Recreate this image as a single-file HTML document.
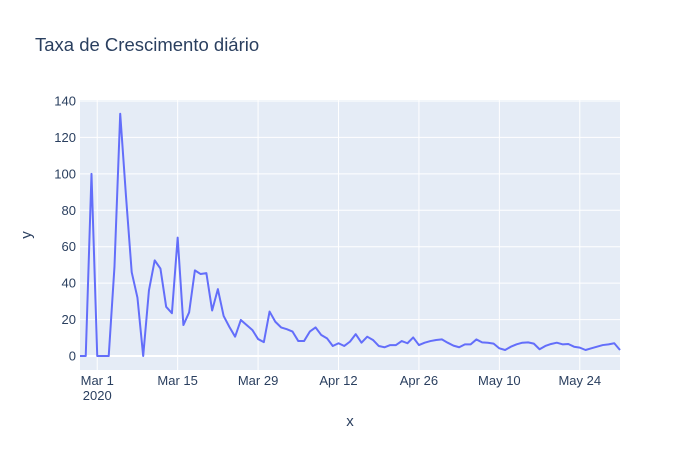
<!DOCTYPE html>
<html><head><meta charset="utf-8"><style>
body{margin:0;background:#fff;}
svg{font-family:"Liberation Sans",sans-serif;}
</style></head><body>
<svg id="chart" width="700" height="450">
<rect x="0" y="0" width="700" height="450" fill="#fff"/>
<text x="35" y="51" font-size="18.5" fill="#2a3f5f">Taxa de Crescimento diário</text>
<rect x="80" y="100" width="540" height="270" fill="#e5ecf6"/>
<g id="grid"></g>
<g id="yticks"></g>
<g id="xticks"></g>
<path id="line" fill="none" stroke="#636efa" stroke-width="2" stroke-linejoin="round"/>
<text x="350" y="426" font-size="15" fill="#2a3f5f" text-anchor="middle">x</text>
<text x="0" y="0" font-size="15" fill="#2a3f5f" text-anchor="middle" transform="translate(31,235) rotate(-90)">y</text>
</svg>
<script>
const startDate = "2020-02-27";
const values = [0,0,100,0,0,0,49,133,88,46,32,0,36,52.5,48,27,23.5,65,17,24,47,45,45.5,25,36.7,22,16,10.6,19.8,17,14.3,9.3,7.6,24.4,18.8,15.7,14.7,13.4,8.2,8.2,13.4,15.7,11.5,9.7,5.5,7,5.5,7.9,12,7.3,10.6,8.8,5.5,4.8,6,6,8.2,7,10.2,6,7.3,8.2,8.8,9.1,7.3,5.7,4.8,6.4,6.4,9.1,7.5,7.3,6.8,4.2,3.3,5.1,6.4,7.3,7.5,6.8,3.7,5.5,6.6,7.3,6.4,6.6,5.1,4.6,3.3,4.2,5.1,6,6.4,7,3.3];
const yTicks = [0,20,40,60,80,100,120,140];
const xTickDays = [3,17,31,45,59,73,87];
const xTickLabels = ["Mar 1","Mar 15","Mar 29","Apr 12","Apr 26","May 10","May 24"];

const NS="http://www.w3.org/2000/svg";
const X0=80,X1=620,Y0=356,YPX=(356-101)/140;
const nDays=values.length-1;
function xScale(d){return X0+(X1-X0)*d/nDays;}
function yScale(v){return Y0-v*YPX;}
const grid=document.getElementById('grid'),yt=document.getElementById('yticks'),xt=document.getElementById('xticks');
yTicks.forEach(v=>{
  const l=document.createElementNS(NS,'line');
  l.setAttribute('x1',X0);l.setAttribute('x2',X1);
  l.setAttribute('y1',yScale(v));l.setAttribute('y2',yScale(v));
  l.setAttribute('stroke','#fff');l.setAttribute('stroke-width',v===0?2:1);
  
  
  grid.appendChild(l);
  const t=document.createElementNS(NS,'text');
  t.setAttribute('x',76);t.setAttribute('y',yScale(v)+4.5);
  t.setAttribute('text-anchor','end');t.setAttribute('font-size','13');t.setAttribute('fill','#2a3f5f');
  t.textContent=v;
  
  
  yt.appendChild(t);
});
xTickDays.forEach((d,i)=>{
  const x=xScale(d);
  const l=document.createElementNS(NS,'line');
  l.setAttribute('x1',x);l.setAttribute('x2',x);l.setAttribute('y1',100);l.setAttribute('y2',370);
  l.setAttribute('stroke','#fff');l.setAttribute('stroke-width',1);
  
  
  grid.appendChild(l);
  const t=document.createElementNS(NS,'text');
  t.setAttribute('x',x);t.setAttribute('y',385);
  t.setAttribute('text-anchor','middle');t.setAttribute('font-size','13');t.setAttribute('fill','#2a3f5f');
  t.textContent=xTickLabels[i];
  
  
  xt.appendChild(t);
  if(i===0){
    const t2=document.createElementNS(NS,'text');
    t2.setAttribute('x',x);t2.setAttribute('y',400);
    t2.setAttribute('text-anchor','middle');t2.setAttribute('font-size','13');t2.setAttribute('fill','#2a3f5f');
    t2.textContent="2020";
    
    
    xt.appendChild(t2);
  }
});
document.getElementById('line').setAttribute('d',values.map((v,i)=>(i?'L':'M')+xScale(i).toFixed(2)+','+yScale(v).toFixed(2)).join(''));
</script>
</body></html>
